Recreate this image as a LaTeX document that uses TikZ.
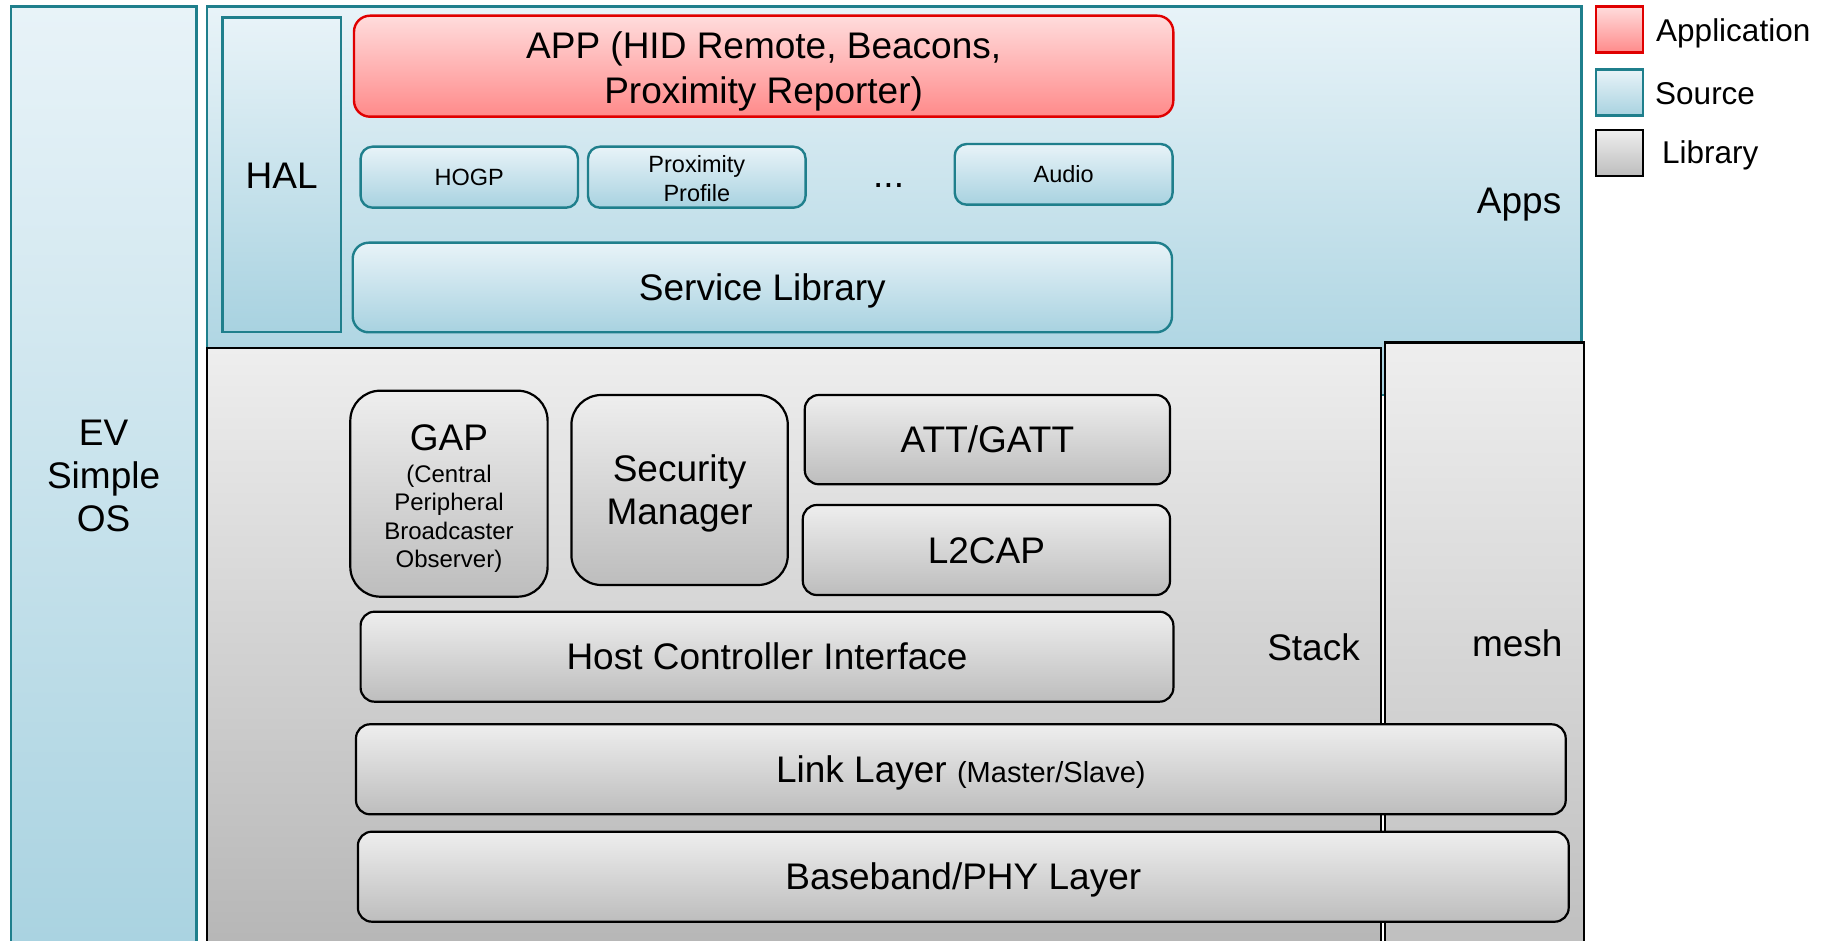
\documentclass[tikz,border=0pt]{standalone}
\usepackage{fontspec}
\setmainfont{Liberation Sans}
\definecolor{tealline}{HTML}{1F7F8C}
\definecolor{bluetop}{HTML}{E8F3F8}
\definecolor{bluebot}{HTML}{A8D2E0}
\definecolor{redtop}{HTML}{FFDCDC}
\definecolor{redbot}{HTML}{FF8A8A}
\definecolor{redline}{HTML}{E00000}
\definecolor{graytop}{HTML}{EEEEEE}
\definecolor{graybot}{HTML}{BDBDBD}
\begin{document}
\begin{tikzpicture}[x=1pt,y=-1pt,
  boxbase/.style={inner sep=0pt, outer sep=0pt, align=center},
  src/.style={boxbase, draw=tealline, line width=2.4pt, top color=bluetop, bottom color=bluebot},
  lib/.style={boxbase, draw=black, line width=2.2pt, top color=graytop, bottom color=graybot},
  appl/.style={boxbase, draw=redline, line width=2.4pt, top color=redtop, bottom color=redbot},
  big/.style={font=\fontsize{37pt}{43.3pt}\selectfont},
  small/.style={font=\fontsize{23.5pt}{28.7pt}\selectfont},
  onebig/.style={big, text height=26.5pt, text depth=0pt},
  onesmall/.style={small, text height=16.9pt, text depth=0pt},
  legtext/.style={font=\fontsize{31.5pt}{36pt}\selectfont, inner sep=0pt, anchor=base west},
  lbl/.style={big, inner sep=0pt, align=center},
]
\useasboundingbox (0,0) rectangle (1832,941);
\fill[white] (0,0) rectangle (1832,941);
\clip (0,0) rectangle (1832,941);

% outer source regions
\node[src, minimum width=185.8pt, minimum height=963.3pt] (ev) at (103.6,488.35) {};
\node[lbl] (evt) at (103.6,476) {EV\\Simple\\OS};

\node[src, minimum width=1374.8pt, minimum height=388.3pt] (apps) at (894.2,200.85) {};
\node[lbl, anchor=base east] (appst) at (1561.5,214) {Apps};

% apps content
\node[src, minimum width=118.2pt, minimum height=314.6pt, onebig] (hal) at (281.7,175) {HAL};
\node[appl, rounded corners=16pt, minimum width=819.3pt, minimum height=101pt] (app) at (763.65,66.2) {};
\node[lbl] (appt) at ([yshift=-5.5pt]app.center) {APP (HID Remote, Beacons,\\[1.7pt]Proximity Reporter)};
\node[src, rounded corners=12pt, minimum width=217.4pt, minimum height=61pt, onesmall] (hogp) at (469.3,177.2) {HOGP};
\node[src, rounded corners=12pt, minimum width=217.6pt, minimum height=61pt] (prox) at (696.8,177.2) {};
\node[small, inner sep=0pt, align=center] (proxt) at ([yshift=-1.2pt]prox.center) {Proximity\\Profile};
\node[lbl] (dots) at (888.6,186) {...};
\node[src, rounded corners=12pt, minimum width=217.9pt, minimum height=60.7pt, onesmall] (audio) at (1063.65,174.35) {Audio};
\node[src, rounded corners=16pt, minimum width=819.3pt, minimum height=89.6pt, onebig] (svc) at (762.35,287.5) {Service Library};

% library regions
\node[lib, bottom color=graybot!95!black, minimum width=1174.2pt, minimum height=627pt] (stack) at (793.9,661.5) {};
\node[lbl, anchor=base east] (stackt) at (1360,660) {Stack};
\node[lib, minimum width=199.1pt, minimum height=632.5pt] (mesh) at (1484.15,658.75) {};
\node[lbl, anchor=base east] (mesht) at (1562.7,656.7) {mesh};

% stack content
\node[lib, rounded corners=30pt, minimum width=197.3pt, minimum height=206pt] (gap) at (448.95,493.7) {};
\node[inner sep=0pt, align=center, font=\fontsize{24pt}{28.5pt}\selectfont] (gapt) at ([yshift=-5pt]gap.center)
  {{\fontsize{37pt}{40pt}\selectfont GAP}\\[3pt](Central\\Peripheral\\Broadcaster\\Observer)};
\node[lib, rounded corners=30pt, minimum width=216.4pt, minimum height=190pt] (sec) at (679.6,490) {};
\node[lbl] (sect) at ([yshift=-3.5pt]sec.center) {Security\\Manager};
\node[lib, rounded corners=14pt, minimum width=365.2pt, minimum height=89.3pt, onebig] (att) at (987.4,439.65) {ATT/GATT};
\node[lib, rounded corners=14pt, minimum width=367.2pt, minimum height=90pt, onebig] (l2cap) at (986.4,550) {L2CAP};
\node[lib, rounded corners=14pt, minimum width=812.8pt, minimum height=90pt, onebig] (hci) at (767,656.7) {Host Controller Interface};
\node[lib, rounded corners=14pt, minimum width=1209.7pt, minimum height=90pt, onebig] (ll) at (960.85,769.3)
  {Link Layer {\fontsize{29pt}{32pt}\selectfont (Master/Slave)}};
\node[lib, rounded corners=14pt, minimum width=1210.8pt, minimum height=90pt, onebig] (bb) at (963.3,876.7) {Baseband/PHY Layer};

% legend
\node[appl, line width=2.8pt, minimum width=47pt, minimum height=46pt] (legapp) at (1619.5,29.7) {};
\node[legtext] (legappt) at (1656,42) {Application};
\node[src, line width=2.8pt, minimum width=47pt, minimum height=46pt] (legsrc) at (1619.5,92.7) {};
\node[legtext] (legsrct) at (1655,105) {Source};
\node[lib, line width=2.8pt, minimum width=47pt, minimum height=46pt] (leglib) at (1619.5,153) {};
\node[legtext] (leglibt) at (1662,163.3) {Library};
\end{tikzpicture}
\end{document}
